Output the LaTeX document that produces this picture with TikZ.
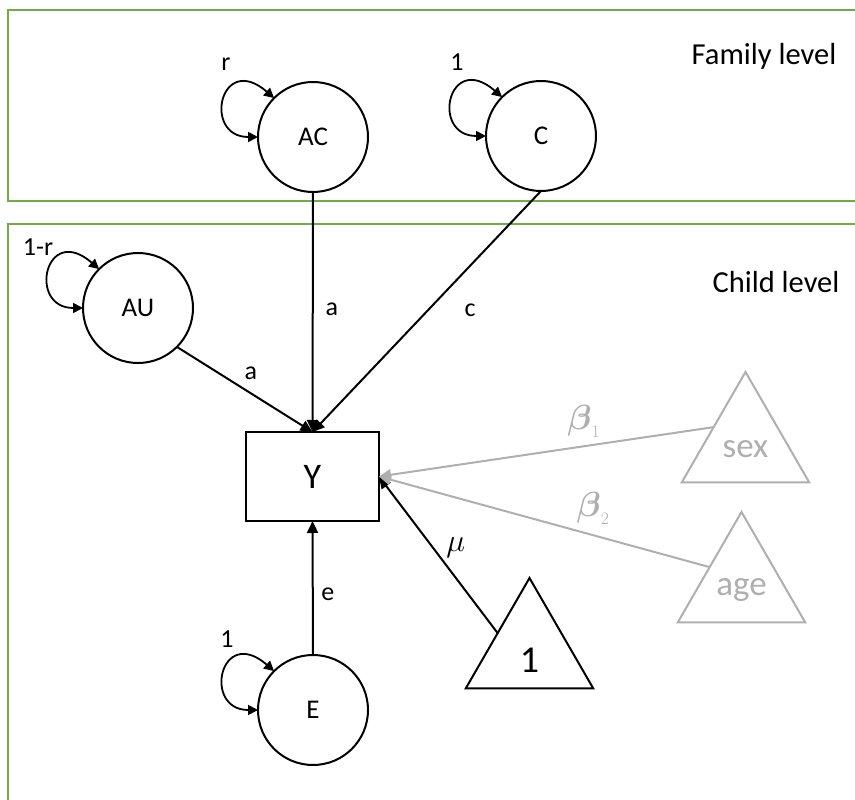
\RequirePackage{fix-cm}
\documentclass[tikz,border=0pt]{standalone}
\usepackage{amsmath}
\usepackage{fontspec}
\setmainfont{Carlito}
\usetikzlibrary{arrows.meta,shapes.geometric,calc}
\definecolor{lvlgreen}{RGB}{112,173,71}
\definecolor{covgray}{RGB}{175,175,175}
\begin{document}
\begin{tikzpicture}[x=1pt,y=-1pt,
  lat/.style={circle,draw,line width=2pt,minimum size=110pt,inner sep=0pt,outer sep=0pt,font=\fontsize{27}{32}\selectfont},
  obs/.style={rectangle,draw,line width=2pt,minimum width=133pt,minimum height=89pt,inner sep=0pt,outer sep=0pt,font=\fontsize{36}{42}\selectfont},
  tri/.style={regular polygon,regular polygon sides=3,draw,line width=2pt,minimum size=147pt,inner sep=0pt,outer sep=0pt},
  arr/.style={line width=2pt,-{Triangle[length=12pt,width=11pt]}},
  covarr/.style={line width=2pt,draw=covgray,-{Triangle[length=12pt,width=11pt,fill=covgray]}},
  var/.style={line width=1.8pt,{Triangle[length=10pt,width=10pt]}-{Triangle[length=10pt,width=10pt]}},
  lbl/.style={font=\fontsize{26}{31}\selectfont,inner sep=0pt},
  trinum/.style={font=\fontsize{38}{44}\selectfont,inner sep=0pt},
  covtxt/.style={font=\fontsize{35}{40}\selectfont,text=covgray,inner sep=0pt},
  betatxt/.style={font=\fontsize{35}{40}\selectfont,text=covgray,inner sep=0pt},
  mutxt/.style={font=\fontsize{32}{36}\selectfont,inner sep=0pt},
  lvltxt/.style={font=\fontsize{30.5}{36}\selectfont,inner sep=0pt},
  lvlbox/.style={draw=lvlgreen,line width=2.2pt}]
\useasboundingbox (0,0) rectangle (855,800);
\clip (0,0) rectangle (855,800);
% level frames
\draw[lvlbox] (8,10) rectangle (880,201);
\draw[lvlbox] (8,224) rectangle (880,830);
\node[lvltxt] (famlab) at (764,56) {Family level};
\node[lvltxt] (chlab) at (776,282) {Child level};
% nodes
\node[lat] (AC) at (313,137) {AC};
\node[lat] (C) at (541,136) {C};
\node[lat] (AU) at (138,308) {AU};
\node[lat] (E) at (313,710) {E};
\node[obs] (Y) at (312.5,476.5) {Y};
\node[tri,label={[trinum,yshift=-8.5pt]center:1}] (one) at (529.5,651.5) {};
\node[tri,draw=covgray,label={[covtxt,yshift=-4pt]center:sex}] (sex) at (745.5,445.5) {};
\node[tri,draw=covgray,label={[covtxt,yshift=-5pt]center:age}] (age) at (741.5,585.5) {};
% variance loops
\draw[var] (AC.west) .. controls ($(AC.west)+(-56,0)$) and ($(AC.135)+(-54,-47)$) .. (AC.135);
\draw[var] (C.west) .. controls ($(C.west)+(-56,0)$) and ($(C.135)+(-54,-47)$) .. (C.135);
\draw[var] (AU.west) .. controls ($(AU.west)+(-56,0)$) and ($(AU.135)+(-54,-47)$) .. (AU.135);
\draw[var] (E.west) .. controls ($(E.west)+(-56,0)$) and ($(E.135)+(-54,-47)$) .. (E.135);
\node[lbl] (rlab) at (226,64) {r};
\node[lbl] (cvlab) at (457,62) {1};
\node[lbl] (aulab) at (38,247) {1-r};
\node[lbl] (evlab) at (227,639) {1};
% paths
\draw[arr] (AC.south) -- node[lbl,pos=0.49,xshift=19pt] {a} (Y.north);
\draw[arr] (C.south) -- node[lbl,pos=0.494,xshift=42pt] {c} (Y.north);
\draw[arr] (AU.-45) -- node[lbl,pos=0.546,yshift=20pt] {a} (Y.north);
\draw[arr] (E.north) -- node[lbl,pos=0.45,xshift=15pt] {e} (Y.south);
\draw[arr] (one.side 1) -- node[mutxt,pos=0.546,xshift=23pt] {$\mu$} (Y.east);
\draw[covarr] (sex.side 1) -- node[betatxt,pos=0.388,yshift=25pt] {$\boldsymbol{\beta}_{\scriptscriptstyle 1}$} (Y.east);
\draw[covarr] (age.side 1) -- node[betatxt,pos=0.353,yshift=27pt] {$\boldsymbol{\beta}_{\scriptscriptstyle 2}$} (Y.east);
\end{tikzpicture}
\end{document}
